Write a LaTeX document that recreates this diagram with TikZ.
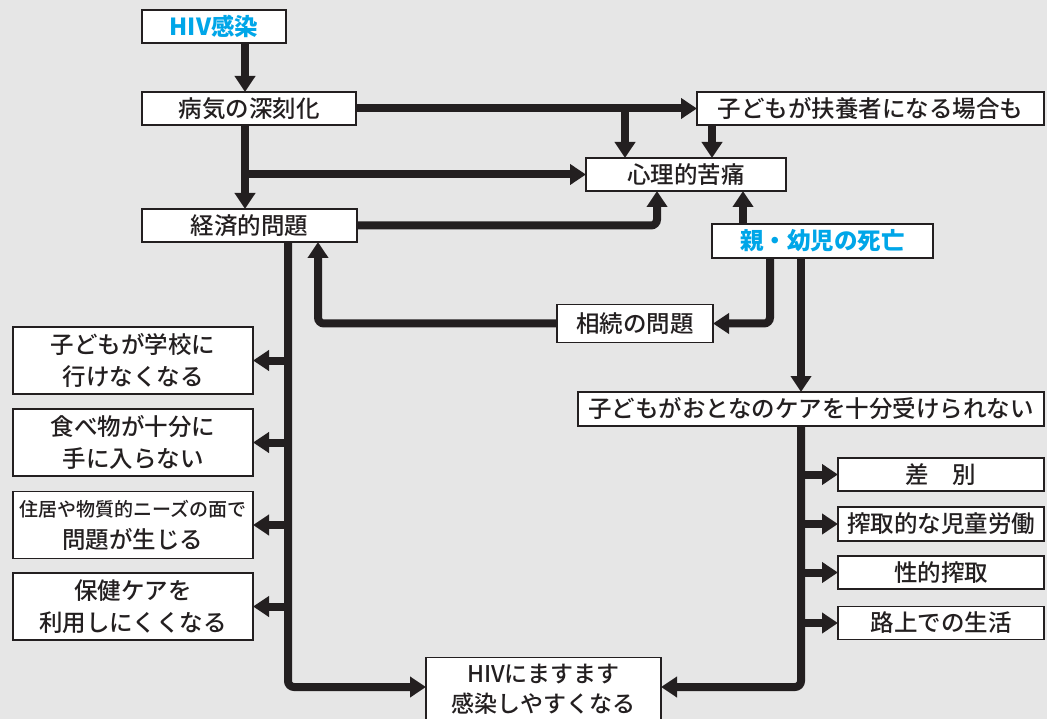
\documentclass[tikz,border=0pt]{standalone}
\usepackage{fontspec}
\setmainfont{Noto Sans CJK JP}[UprightFont=* Medium, BoldFont=* Black]
\usetikzlibrary{arrows.meta}
\definecolor{bg}{RGB}{230,230,230}
\definecolor{ink}{RGB}{35,31,32}
\definecolor{hblue}{RGB}{0,166,232}
\tikzset{
  box/.style={draw=ink, line width=1.6pt, fill=white, inner sep=0pt, outer sep=0pt,
    text=ink, align=center, font=\fontsize{23.5}{32}\selectfont},
  bluebox/.style={box, text=hblue, font=\fontsize{23.5}{32}\selectfont\bfseries},
  arr/.style={draw=ink, line width=8pt, -{Triangle[length=16pt,width=20pt]}},
  rc/.style={rounded corners=6pt}
}
\begin{document}
\begin{tikzpicture}[x=1pt,y=-1pt]
\fill[bg] (0,0) rectangle (1047,719);
\useasboundingbox (0,0) rectangle (1047,719);

% column coordinates
\coordinate (xa) at (245,0);
\coordinate (xb) at (625,0);
\coordinate (xc) at (712,0);
\coordinate (xd) at (657,0);
\coordinate (xe) at (743,0);
\coordinate (xf) at (770,0);
\coordinate (xg) at (801,0);
\coordinate (xh) at (318,0);
\coordinate (xi) at (288,0);

% nodes
\node[bluebox, minimum width=144pt, minimum height=33pt] (hiv) at (214,26.5) {HIV感染};
\node[box, minimum width=214pt, minimum height=33pt] (sick) at (249,108.5) {病気の深刻化};
\node[box, minimum width=347pt, minimum height=33pt] (carer) at (870.5,108.5) {子どもが扶養者になる場合も};
\node[box, minimum width=200pt, minimum height=33pt] (psy) at (686,174.5) {心理的苦痛};
\node[box, minimum width=215pt, minimum height=33pt] (econ) at (249.5,225.5) {経済的問題};
\node[bluebox, minimum width=221pt, minimum height=34pt] (death) at (822.5,241) {親・幼児の死亡};
\node[box, minimum width=156pt, minimum height=38pt] (inherit) at (635,323.5) {相続の問題};
\node[box, minimum width=466pt, minimum height=34pt] (care) at (811,409) {子どもがおとなのケアを十分受けられない};

\node[box, minimum width=206pt, minimum height=33pt] (disc) at (941,474.5) {差　別};
\node[box, minimum width=206pt, minimum height=34pt] (labor) at (941,524) {搾取的な児童労働};
\node[box, minimum width=206pt, minimum height=33pt] (sex) at (941,572.5) {性的搾取};
\node[box, minimum width=206pt, minimum height=33pt] (street) at (941,623) {路上での生活};

\node[box, minimum width=240pt, minimum height=67pt] (school) at (133,360.5) {子どもが学校に\\行けなくなる};
\node[box, minimum width=240pt, minimum height=67pt] (food) at (133,442.5) {食べ物が十分に\\手に入らない};
\node[box, minimum width=240pt, minimum height=67pt, font=\fontsize{19}{32}\selectfont] (house) at (133,525) {住居や物質的ニーズの面で\\{\fontsize{23.5}{32}\selectfont 問題が生じる}};
\node[box, minimum width=240pt, minimum height=67pt] (health) at (133,606.5) {保健ケアを\\利用しにくくなる};

\node[box, minimum width=235pt, minimum height=63pt, font=\fontsize{23}{30}\selectfont] (hiv2) at (543.5,689) {HIVにますます\\感染しやすくなる};

% connectors
\draw[arr] (hiv.south -| xa) -- (sick.north -| xa);
\draw[arr] (sick.south -| xa) -- (econ.north -| xa);
\draw[arr] (psy.west -| xa) -- (psy.west);
\draw[arr] (sick.east) -- (carer.west);
\draw[arr] (sick.east -| xb) -- (psy.north -| xb);
\draw[arr] (carer.south -| xc) -- (psy.north -| xc);
\draw[arr, rc] (econ.east) -| (psy.south -| xd);
\draw[arr] (death.north -| xe) -- (psy.south -| xe);
\draw[arr, rc] (death.south -| xf) |- (inherit.east);
\draw[arr] (death.south -| xg) -- (care.north -| xg);
\draw[arr, rc] (inherit.west) -| (econ.south -| xh);
\coordinate (yh) at (0,687);
\draw[arr, rc] (econ.south -| xi) -- (xi |- yh) -- (hiv2.west |- yh);
\draw[arr, rc] (care.south -| xg) -- (xg |- yh) -- (hiv2.east |- yh);

\foreach \n in {school,food,house,health}
  \draw[arr] (\n.east -| xi) -- (\n.east);
\foreach \n in {disc,labor,sex,street}
  \draw[arr] (\n.west -| xg) -- (\n.west);
\end{tikzpicture}
\end{document}
